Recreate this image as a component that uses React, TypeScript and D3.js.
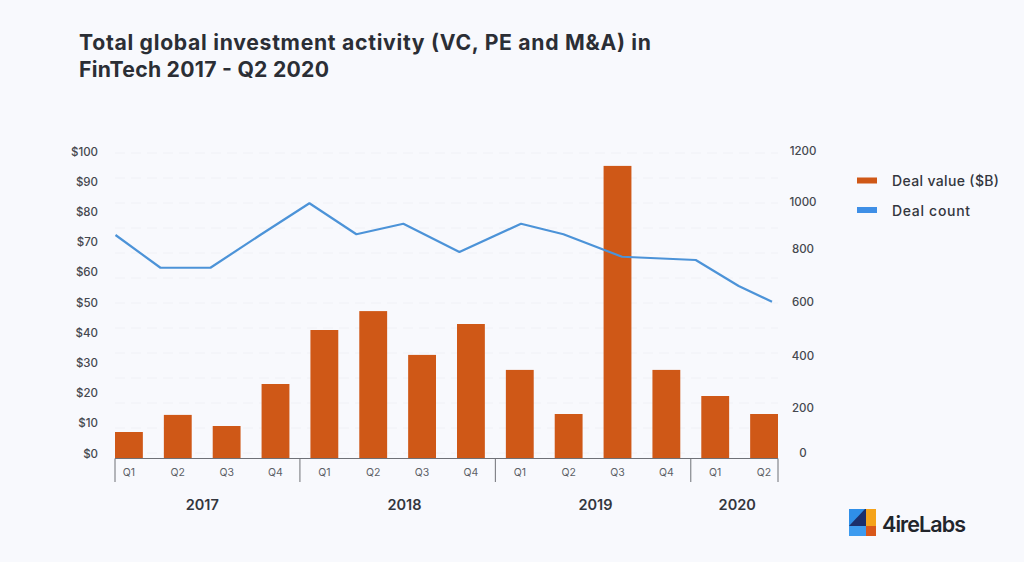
import * as d3 from "d3"

const WIDTH = 1024
const HEIGHT = 562
const FONT = "Inter, 'Open Sans', sans-serif"

const title = [
  "Total global investment activity (VC, PE and M&A) in",
  "FinTech 2017 - Q2 2020",
]
const quarters = ["Q1", "Q2", "Q3", "Q4", "Q1", "Q2", "Q3", "Q4", "Q1", "Q2", "Q3", "Q4", "Q1", "Q2"]
const dealValue = [7, 12.7, 9, 23, 41, 47.3, 32.7, 43, 27.7, 13, 95.7, 27.7, 19, 13]
const dealCount = [872, 741, 741, 870, 999, 875, 917, 804, 917, 875, 785, 772, 668, 605]
const countQuarter = [0, 0.89, 1.88, 2.85, 3.84, 4.77, 5.7, 6.81, 8.03, 8.87, 10.03, 11.49, 12.34, 13]
const years = ["2017", "2018", "2019", "2020"]
const yearQuarter = [1.5, 5.64, 9.55, 12.45]
const yearBreaks = [4, 8, 12]
const valueTicks = [0, 10, 20, 30, 40, 50, 60, 70, 80, 90, 100]
const countTicks = [0, 200, 400, 600, 800, 1000, 1200]
const gridTicks = d3.range(0, 1300, 100)
const legend = ["Deal value ($B)", "Deal count"]

const BAR_COLOR = "#cf5817"
const LINE_COLOR = "#4c93d8"
const TEXT_COLOR = "#33363d"
const AXIS_COLOR = "#6f7177"

const PLOT_LEFT = 115
const PLOT_RIGHT = 778
const BASELINE = 458.5

export default function App() {
  const x = d3
    .scaleBand<number>()
    .domain(d3.range(quarters.length))
    .range([PLOT_LEFT, PLOT_RIGHT])
    .paddingInner(0.43)
    .paddingOuter(0)
  const yValue = d3.scaleLinear().domain([0, 100]).range([453.5, 151.5])
  const yBar = d3.scaleLinear().domain([0, 100]).range([453, 153])
  const yCount = d3.scaleLinear().domain([0, 1200]).range([453, 153])
  // the right axis labels are not evenly spaced in the source
  const yCountLabel = d3
    .scaleLinear()
    .domain(countTicks)
    .range([453, 408, 355.5, 302, 249, 202, 151])
  const xCount = d3.scaleLinear().domain([0, 13]).range([PLOT_LEFT + 0.5, 772])

  const center = (i: number) => (x(i) ?? 0) + x.bandwidth() / 2
  const yearX = d3.scaleLinear().domain([0, 13]).range([center(0), center(13)])
  const breakX = (i: number) => (x(i) ?? 0) - (x.step() - x.bandwidth()) / 2

  const countLine = d3
    .line<number>()
    .x((d, i) => xCount(countQuarter[i]))
    .y((d) => yCount(d))

  const separators = [PLOT_LEFT, ...yearBreaks.map(breakX), PLOT_RIGHT]

  return (
    <svg
      width={WIDTH}
      height={HEIGHT}
      viewBox={`0 0 ${WIDTH} ${HEIGHT}`}
      fontFamily={FONT}
      style={{ position: "fixed", left: 0, top: 0 }}
    >
      <rect width={WIDTH} height={HEIGHT} fill="#f8f9fd" />

      {title.map((line, i) => (
        <text
          key={line}
          x={79}
          y={50 + i * 27}
          fontSize={21.2}
          fontWeight={700}
          fill="#2b2e35"
          textLength={i === 0 ? 572 : 250}
          lengthAdjust="spacing"
        >
          {line}
        </text>
      ))}

      <g stroke="#f0f1f6" strokeWidth={1} strokeDasharray="10 6">
        {gridTicks.map((t) => (
          <line key={t} x1={PLOT_LEFT} x2={PLOT_RIGHT} y1={yCount(t)} y2={yCount(t)} />
        ))}
      </g>

      <g fontSize={11.5} fontWeight={500} fill="#45484f">
        {valueTicks.map((t) => (
          <text key={t} x={98} y={yValue(t)} textAnchor="end" dominantBaseline="central">
            ${t}
          </text>
        ))}
        {countTicks.map((t) => (
          <text key={t} x={803} y={yCountLabel(t)} textAnchor="middle" dominantBaseline="central">
            {t}
          </text>
        ))}
      </g>

      {dealValue.map((v, i) => (
        <rect
          key={i}
          x={x(i)}
          y={yBar(v)}
          width={x.bandwidth()}
          height={BASELINE - yBar(v)}
          fill={BAR_COLOR}
        />
      ))}

      <path
        d={countLine(dealCount) ?? ""}
        fill="none"
        stroke={LINE_COLOR}
        strokeWidth={2.2}
        strokeLinejoin="round"
      />

      <line x1={PLOT_LEFT} x2={PLOT_RIGHT} y1={BASELINE} y2={BASELINE} stroke={AXIS_COLOR} />
      {separators.map((s) => (
        <line key={s} x1={s} x2={s} y1={BASELINE} y2={482} stroke={AXIS_COLOR} />
      ))}

      <g fontSize={10.5} fill="#5c5f66" textAnchor="middle">
        {quarters.map((q, i) => (
          <text key={i} x={center(i)} y={472} dominantBaseline="central">
            {q}
          </text>
        ))}
      </g>

      <g fontSize={14.5} fontWeight={600} fill={TEXT_COLOR} textAnchor="middle">
        {years.map((year, i) => (
          <text key={year} x={yearX(yearQuarter[i])} y={504} dominantBaseline="central">
            {year}
          </text>
        ))}
      </g>

      {legend.map((label, i) => (
        <g key={label} transform={`translate(857, ${180.5 + i * 29.5})`}>
          <rect width={20} height={6} y={-3} fill={i === 0 ? BAR_COLOR : "#3f8fe6"} />
          <text
            x={35}
            fontSize={14}
            fontWeight={500}
            fill={TEXT_COLOR}
            dominantBaseline="central"
            textLength={i === 0 ? 107 : 78}
            lengthAdjust="spacing"
          >
            {label}
          </text>
        </g>
      ))}

      <g transform="translate(849, 509)">
        <rect width={27} height={27} fill="#2f8fe8" />
        <rect x={17} width={10} height={17} fill="#f5a31a" />
        <rect x={17} y={17} width={10} height={10} fill="#d9581a" />
        <rect y={17} width={17} height={10} fill="#3d9bef" />
        <path d="M16 0H17V17H0Z" fill="#1c2f6b" />
        <text x={33} y={15} fontSize={21.5} fontWeight={600} fill="#22252b" dominantBaseline="central" textLength={84} lengthAdjust="spacing">
          4ireLabs
        </text>
      </g>
    </svg>
  )
}
